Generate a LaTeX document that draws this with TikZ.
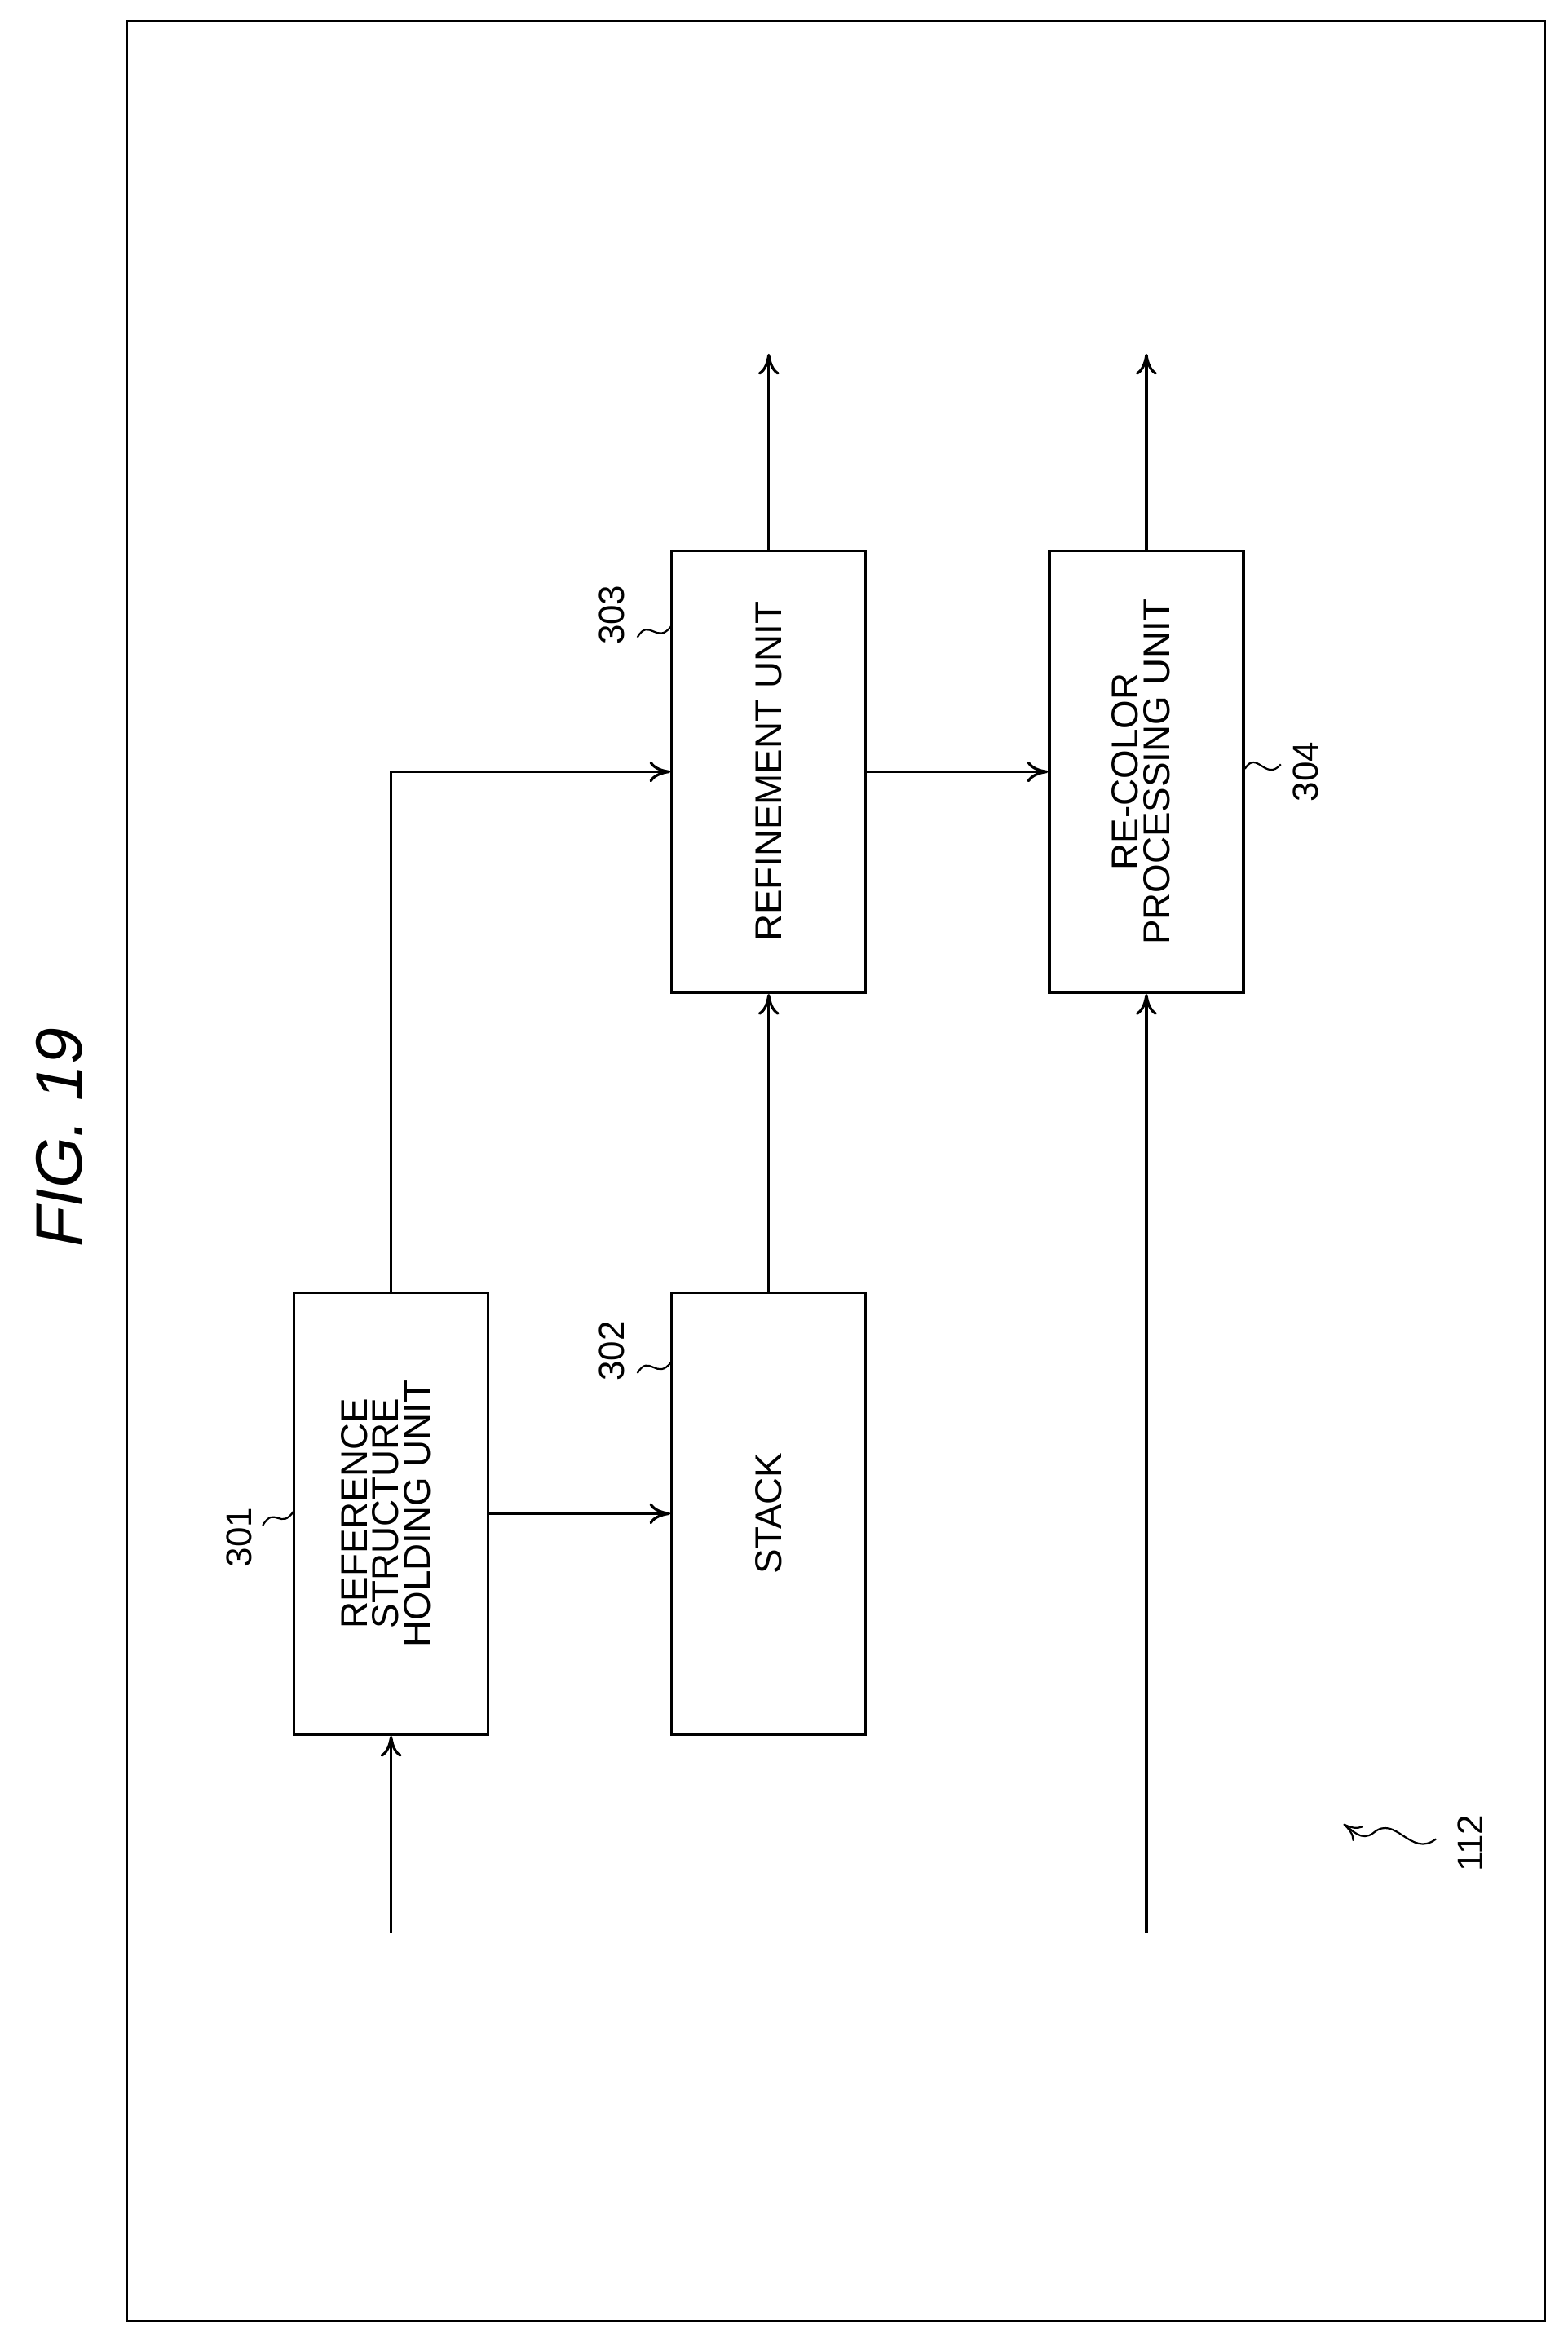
\documentclass[tikz,border=0pt]{standalone}
\usepackage{fontspec}
\setmainfont{Liberation Sans}
\usetikzlibrary{arrows.meta}
\begin{document}
\begin{tikzpicture}[x=0.5pt,y=-0.5pt,
    unit/.style={draw, line width=0.9pt, minimum width=65pt, minimum height=148pt, inner sep=0pt, font=\fontsize{12.5}{12.5}\selectfont},
    flow/.style={line width=0.9pt, -{To[length=7pt,width=7pt]}},
    refnum/.style={rotate=90, font=\fontsize{12}{12}\selectfont},
    wave/.style={line width=0.6pt}]

  \useasboundingbox (0,0) rectangle (1050,1565);
  \draw[line width=0.9pt] (85,14) rectangle (1035,1555);

  \node[rotate=90, font=\fontsize{22}{24}\selectfont\itshape] (title) at (40,762) {FIG. 19};

  % blocks
  \node[unit] (holding) at (262,1014)
    {\rotatebox{90}{\begin{tabular}{@{}c@{}}REFERENCE\\[-2pt]STRUCTURE\\[-2pt]HOLDING UNIT\end{tabular}}};
  \node[unit] (stack) at (515,1014) {\rotatebox{90}{STACK}};
  \node[unit] (refine) at (515,517) {\rotatebox{90}{REFINEMENT UNIT}};
  \node[unit] (recolor) at (768,517)
    {\rotatebox{90}{\begin{tabular}{@{}c@{}}RE-COLOR\\[-2pt]PROCESSING UNIT\end{tabular}}};

  % free ends
  \coordinate (in1) at (262,1295);
  \coordinate (in2) at (768,1295);
  \coordinate (out1) at (515,237);
  \coordinate (out2) at (768,237);

  % connectors
  \draw[flow] (in1) -- (holding.south);
  \draw[flow] (holding.east) -- (stack.west);
  \draw[flow] (holding.north) |- (refine.west);
  \draw[flow] (stack.north) -- (refine.south);
  \draw[flow] (refine.east) -- (recolor.west);
  \draw[flow] (refine.north) -- (out1);
  \draw[flow] (recolor.north) -- (out2);
  \draw[flow] (in2) -- (recolor.south);

  % reference numerals
  \node[refnum] (n301) at (160,1030) {301};
  \draw[wave] (176,1022) .. controls (184,1008) and (188,1026) .. (197,1012);
  \node[refnum] (n302) at (410,905) {302};
  \draw[wave] (427,920) .. controls (435,906) and (440,926) .. (450,912);
  \node[refnum] (n303) at (410,412) {303};
  \draw[wave] (427,427) .. controls (435,413) and (440,433) .. (450,419);
  \node[refnum] (n304) at (875,517) {304};
  \draw[wave] (834,515) .. controls (842,502) and (848,524) .. (858,512);
  \node[refnum] (n112) at (985,1235) {112};
  \draw[wave, -{To[length=6pt,width=6pt]}] (962,1232) .. controls (945,1245) and (935,1215) .. (920,1228) .. controls (912,1234) and (906,1226) .. (900,1222);

\end{tikzpicture}
\end{document}
